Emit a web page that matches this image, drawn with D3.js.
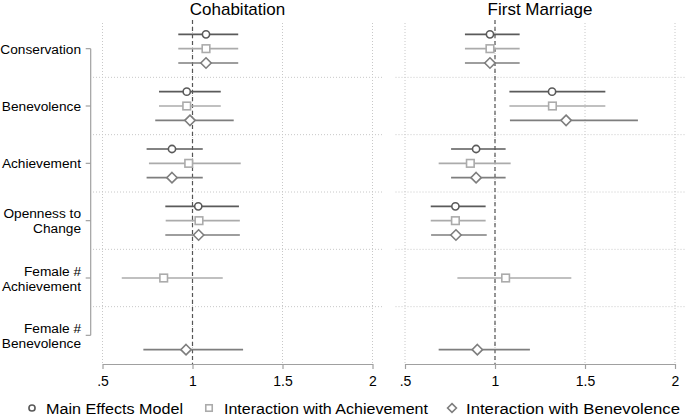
<!DOCTYPE html>
<html lang="en">
<head>
  <meta charset="UTF-8">
  <title>Cohabitation / First Marriage</title>
  <script src="https://d3js.org/d3.v7.min.js"></script>
</head>
<style>
  body { margin: 0; background: #fff; }
  * { font-family: "Liberation Sans", Arial, sans-serif; }
  .title { font-size: 17px; fill: #000; }
  .ylabel { font-size: 13.7px; fill: #000; }
  .tick text { font-size: 14px; fill: #000; }
  .legend text { font-size: 15.5px; fill: #000; }
</style>
<body>
<div id="chart"></div>
<script>

// ## Data
const categories = [
  ["Conservation"],
  ["Benevolence"],
  ["Achievement"],
  ["Openness to", "Change"],
  ["Female #", "Achievement"],
  ["Female #", "Benevolence"]
];

const seriesNames = ["Main Effects Model", "Interaction with Achievement", "Interaction with Benevolence"];
const xTicks = [0.5, 1, 1.5, 2];
const xTickLabels = [".5", "1", "1.5", "2"];
const panelTitles = ["Cohabitation", "First Marriage"];

// [estimate, lower, upper] per category, null = not in model
const cohabMain = [[1.075, 0.921, 1.254], [0.968, 0.814, 1.157], [0.886, 0.745, 1.057], [1.032, 0.849, 1.258], null, null];
const cohabAch  = [[1.075, 0.921, 1.254], [0.968, 0.814, 1.157], [0.979, 0.758, 1.268], [1.036, 0.851, 1.263], [0.840, 0.607, 1.168], null];
const cohabBen  = [[1.075, 0.921, 1.254], [0.986, 0.793, 1.229], [0.886, 0.745, 1.057], [1.034, 0.849, 1.263], null, [0.964, 0.727, 1.281]];

const marMain = [[0.972, 0.833, 1.137], [1.317, 1.080, 1.613], [0.895, 0.756, 1.059], [0.780, 0.643, 0.948], null, null];
const marAch  = [[0.972, 0.833, 1.137], [1.319, 1.080, 1.613], [0.863, 0.687, 1.087], [0.780, 0.643, 0.948], [1.059, 0.791, 1.424], null];
const marBen  = [[0.972, 0.833, 1.137], [1.395, 1.083, 1.794], [0.895, 0.756, 1.059], [0.783, 0.645, 0.954], null, [0.902, 0.687, 1.194]];

const panels = [
  {title: panelTitles[0], series: [cohabMain, cohabAch, cohabBen]},
  {title: panelTitles[1], series: [marMain, marAch, marBen]}
];

// ## Dimensions
const width = 685, height = 415;
const plotTop = 20, plotBottom = 364;
const panelRegions = [{x0: 93, x1: 383}, {x0: 395.5, x1: 685.5}];
const colors = ["#5a5a5a", "#ababab", "#7e7e7e"];
const gridColor = "#c8c8c8";

const svg = d3.select("#chart").append("svg")
  .attr("width", width)
  .attr("height", height);

// 4 rows per category: first is the gap, then one per series
const yScale = d3.scaleLinear()
  .domain([0, categories.length * 4])
  .range([plotTop, plotBottom]);

// ## Markers
function drawMarker(g, kind, x, y, color, size) {
  if (kind === 0) {
    g.append("circle").attr("cx", x).attr("cy", y).attr("r", 3.6 * size)
      .attr("fill", "#fff").attr("stroke", color).attr("stroke-width", 1.6);
  } else if (kind === 1) {
    const s = 7.6 * size;
    g.append("rect").attr("x", x - s / 2).attr("y", y - s / 2).attr("width", s).attr("height", s)
      .attr("fill", "#fff").attr("stroke", color).attr("stroke-width", 1.6);
  } else {
    const r = 5.2 * size;
    g.append("path").attr("d", `M${x},${y - r}L${x + r},${y}L${x},${y + r}L${x - r},${y}Z`)
      .attr("fill", "#fff").attr("stroke", color).attr("stroke-width", 1.6);
  }
}

// ## Panels
panels.forEach((panel, pi) => {
  const reg = panelRegions[pi];
  const xScale = d3.scaleLinear()
    .domain([0.5, 2])
    .range([reg.x0 + 9.5, reg.x1 - 10.5]);

  const g = svg.append("g");

  // vertical grid
  g.selectAll(".vgrid").data(xTicks).enter().append("line")
    .attr("x1", d => xScale(d)).attr("x2", d => xScale(d))
    .attr("y1", plotTop + 3).attr("y2", plotBottom)
    .attr("stroke", gridColor).attr("stroke-width", 1)
    .attr("stroke-dasharray", "1,2");

  // horizontal grid between categories
  g.selectAll(".hgrid").data(d3.range(1, categories.length)).enter().append("line")
    .attr("x1", reg.x0).attr("x2", reg.x1)
    .attr("y1", d => yScale(d * 4)).attr("y2", d => yScale(d * 4))
    .attr("stroke", gridColor).attr("stroke-width", 1)
    .attr("stroke-dasharray", "1,2");

  // reference line at 1
  g.append("line")
    .attr("x1", xScale(1)).attr("x2", xScale(1))
    .attr("y1", plotTop).attr("y2", plotBottom)
    .attr("stroke", "#555").attr("stroke-width", 1.2)
    .attr("stroke-dasharray", "4,3");

  // x axis
  g.append("g")
    .attr("transform", `translate(0,${plotBottom})`)
    .call(d3.axisBottom(xScale)
      .tickValues(xTicks)
      .tickFormat((d, i) => xTickLabels[i])
      .tickSize(5)
      .tickSizeOuter(0)
      .tickPadding(4))
    .call(a => a.select(".domain").attr("stroke", "#a0a0a0").attr("stroke-width", 1.2))
    .call(a => a.selectAll(".tick line").attr("stroke", "#a0a0a0").attr("stroke-width", 1.2))
    .call(a => a.selectAll(".tick text").attr("dy", "0.9em"));

  // title
  g.append("text")
    .attr("class", "title")
    .attr("x", (xScale(0.5) + xScale(2)) / 2)
    .attr("y", 15)
    .attr("text-anchor", "middle")
    .text(panel.title);

  // CIs and estimates
  panel.series.forEach((ser, si) => {
    ser.forEach((d, ci) => {
      if (!d) return;
      const y = yScale(ci * 4 + 1 + si);
      g.append("line")
        .attr("x1", xScale(d[1])).attr("x2", xScale(d[2]))
        .attr("y1", y).attr("y2", y)
        .attr("stroke", colors[si]).attr("stroke-width", 1.6);
      drawMarker(g, si, xScale(d[0]), y, colors[si], 1);
    });
  });
});

// ## Y axis (category labels)
const yAxisX = 90.7;
const labelY = categories.map((c, i) => yScale(i * 4 + 2));

svg.append("line")
  .attr("x1", yAxisX).attr("x2", yAxisX)
  .attr("y1", labelY[0]).attr("y2", labelY[labelY.length - 1])
  .attr("stroke", "#a0a0a0").attr("stroke-width", 1.2);

categories.forEach((lines, i) => {
  svg.append("line")
    .attr("x1", yAxisX - 5).attr("x2", yAxisX)
    .attr("y1", labelY[i]).attr("y2", labelY[i])
    .attr("stroke", "#a0a0a0").attr("stroke-width", 1.2);
  const lineHeight = 15;
  lines.forEach((ln, li) => {
    svg.append("text")
      .attr("class", "ylabel")
      .attr("x", 81)
      .attr("y", labelY[i] + 5 + (li - (lines.length - 1) / 2) * lineHeight)
      .attr("text-anchor", "end")
      .text(ln);
  });
});

// ## Legend
const legendItems = [
  {mx: 32, tx: 46, tw: 137},
  {mx: 209, tx: 224, tw: 204},
  {mx: 452, tx: 466, tw: 214}
];
const legend = svg.append("g").attr("class", "legend");
seriesNames.forEach((name, i) => {
  const it = legendItems[i];
  drawMarker(legend, i, it.mx, 408, colors[i], 0.85);
  legend.append("text")
    .attr("x", it.tx)
    .attr("y", 413.5)
    .attr("textLength", it.tw)
    .attr("lengthAdjust", "spacingAndGlyphs")
    .text(name);
});

</script>
</body>
</html>
